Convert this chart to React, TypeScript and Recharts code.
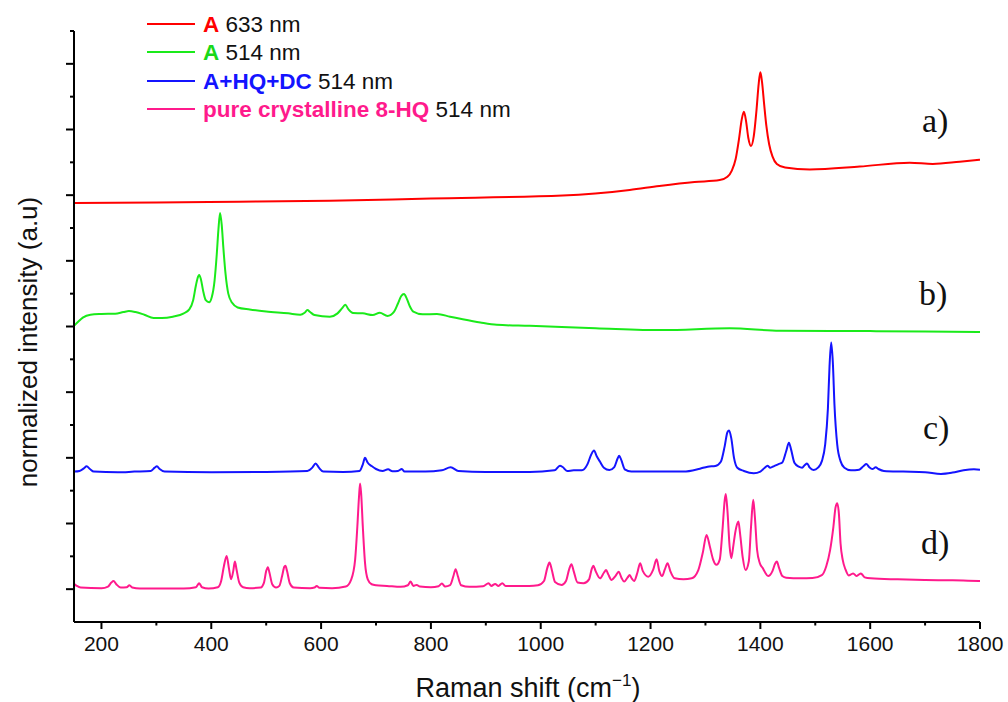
import React from "react";
import { LineChart, Line, XAxis, YAxis, Customized } from "recharts";

// ---- Data (x = Raman shift cm^-1, y = normalized intensity, stacked offsets) ----
const redA633: [number, number][] = [
  [150, 12.76], [300, 12.78], [450, 12.8], [616, 12.83], [800, 12.9], [1040, 12.99], [1162, 13.16],
  [1216, 13.28], [1280, 13.4], [1326, 13.46], [1340, 13.56], [1348, 13.75], [1355, 14.1], [1361, 14.7],
  [1366, 15.3], [1370, 15.54], [1374, 15.25], [1378, 14.75], [1383, 14.5], [1388, 14.8], [1393, 15.6],
  [1397, 16.4], [1400, 16.74], [1403, 16.45], [1407, 15.75], [1411, 15.1], [1416, 14.55], [1422, 14.18],
  [1430, 13.95], [1445, 13.84], [1490, 13.78], [1581, 13.87], [1672, 13.99], [1714, 13.95], [1763, 14.02],
  [1800, 14.08],
];

const greenA514: [number, number][] = [
  [150, 9.02], [158, 9.15], [166, 9.27], [180, 9.36], [200, 9.38], [225, 9.39], [240, 9.44], [250, 9.47],
  [262, 9.44], [278, 9.36], [295, 9.26], [310, 9.26], [330, 9.3], [350, 9.4], [360, 9.52], [367, 9.8],
  [372, 10.25], [376, 10.52], [378, 10.57], [381, 10.45], [385, 10.1], [390, 9.8], [396, 9.74], [401, 9.9],
  [406, 10.4], [410, 11.2], [413, 11.95], [416, 12.46], [419, 12.1], [422, 11.4], [426, 10.6], [431, 10.0],
  [438, 9.72], [448, 9.58], [470, 9.52], [500, 9.46], [540, 9.4], [562, 9.36], [570, 9.42], [575, 9.5],
  [580, 9.44], [588, 9.35], [616, 9.3], [630, 9.4], [638, 9.55], [644, 9.66], [650, 9.52], [658, 9.41],
  [676, 9.4], [694, 9.35], [707, 9.42], [721, 9.32], [733, 9.45], [740, 9.7], [746, 9.93], [751, 9.99],
  [756, 9.85], [762, 9.6], [768, 9.45], [785, 9.37], [811, 9.38], [835, 9.3], [858, 9.22], [890, 9.12],
  [920, 9.05], [980, 9.02], [1100, 8.95], [1222, 8.89], [1344, 8.95], [1435, 8.87], [1600, 8.86],
  [1700, 8.85], [1800, 8.83],
];

const blueAHQDC514: [number, number][] = [
  [150, 4.58], [160, 4.6], [168, 4.68], [173, 4.74], [179, 4.66], [186, 4.58], [230, 4.56], [260, 4.58],
  [290, 4.6], [297, 4.7], [301, 4.74], [306, 4.66], [315, 4.58], [400, 4.56], [500, 4.57], [575, 4.6],
  [584, 4.7], [590, 4.83], [596, 4.7], [604, 4.58], [640, 4.57], [670, 4.6], [676, 4.8], [680, 5.0],
  [685, 4.85], [692, 4.75], [700, 4.66], [712, 4.6], [722, 4.65], [730, 4.59], [740, 4.6], [747, 4.66],
  [752, 4.58], [790, 4.58], [820, 4.62], [836, 4.71], [850, 4.6], [900, 4.57], [980, 4.57], [1025, 4.62],
  [1035, 4.76], [1040, 4.72], [1048, 4.6], [1060, 4.62], [1075, 4.62], [1085, 4.8], [1092, 5.1],
  [1097, 5.22], [1102, 5.05], [1108, 4.88], [1115, 4.7], [1125, 4.63], [1134, 4.72], [1140, 4.98],
  [1143, 5.06], [1147, 4.92], [1153, 4.65], [1165, 4.58], [1200, 4.58], [1260, 4.58], [1290, 4.67],
  [1304, 4.73], [1318, 4.75], [1328, 4.88], [1335, 5.35], [1340, 5.78], [1343, 5.83], [1347, 5.6],
  [1352, 5.0], [1358, 4.7], [1370, 4.6], [1388, 4.53], [1400, 4.58], [1408, 4.7], [1413, 4.76],
  [1418, 4.7], [1425, 4.75], [1433, 4.81], [1440, 4.86], [1447, 5.2], [1452, 5.46], [1456, 5.25],
  [1462, 4.85], [1470, 4.73], [1476, 4.7], [1481, 4.78], [1485, 4.83], [1490, 4.7], [1497, 4.63],
  [1505, 4.7], [1512, 4.9], [1518, 5.4], [1523, 6.5], [1526, 7.8], [1529, 8.51], [1532, 7.9],
  [1535, 6.6], [1540, 5.4], [1546, 4.9], [1553, 4.7], [1565, 4.62], [1580, 4.64], [1588, 4.75],
  [1593, 4.81], [1598, 4.72], [1604, 4.66], [1610, 4.71], [1615, 4.66], [1625, 4.6], [1660, 4.58],
  [1700, 4.56], [1729, 4.51], [1750, 4.55], [1770, 4.62], [1789, 4.65], [1800, 4.64],
];

const pinkHQ514: [number, number][] = [
  [150, 1.16], [155, 1.1], [162, 1.05], [200, 1.03], [212, 1.08], [218, 1.2], [222, 1.25], [227, 1.15],
  [235, 1.05], [246, 1.06], [251, 1.12], [256, 1.05], [270, 1.02], [350, 1.02], [372, 1.06], [378, 1.18],
  [383, 1.06], [395, 1.02], [412, 1.06], [418, 1.25], [423, 1.7], [428, 2.01], [432, 1.65], [436, 1.3],
  [440, 1.55], [443, 1.84], [446, 1.6], [451, 1.2], [458, 1.06], [470, 1.03], [490, 1.05], [496, 1.2],
  [500, 1.55], [503, 1.67], [506, 1.5], [511, 1.15], [518, 1.05], [524, 1.1], [529, 1.4], [533, 1.68],
  [535, 1.71], [538, 1.55], [543, 1.18], [550, 1.05], [580, 1.03], [588, 1.05], [592, 1.1], [597, 1.04],
  [620, 1.03], [645, 1.08], [655, 1.3], [662, 1.9], [666, 2.9], [669, 3.8], [671, 4.22], [673, 3.9],
  [676, 2.9], [680, 1.8], [685, 1.3], [692, 1.15], [700, 1.12], [720, 1.1], [745, 1.07], [758, 1.12],
  [763, 1.23], [768, 1.1], [774, 1.13], [780, 1.08], [800, 1.06], [814, 1.09], [820, 1.17], [826, 1.08],
  [835, 1.12], [841, 1.4], [845, 1.61], [849, 1.4], [855, 1.12], [870, 1.07], [895, 1.09], [905, 1.18],
  [910, 1.1], [917, 1.16], [923, 1.1], [930, 1.18], [936, 1.1], [960, 1.1], [979, 1.1], [995, 1.12],
  [1006, 1.25], [1012, 1.65], [1016, 1.81], [1020, 1.6], [1026, 1.22], [1038, 1.13], [1046, 1.25],
  [1052, 1.62], [1056, 1.76], [1060, 1.55], [1067, 1.2], [1078, 1.18], [1088, 1.3], [1093, 1.62],
  [1096, 1.71], [1100, 1.55], [1108, 1.33], [1115, 1.5], [1119, 1.58], [1123, 1.45], [1129, 1.28],
  [1136, 1.4], [1142, 1.53], [1147, 1.35], [1152, 1.23], [1158, 1.35], [1162, 1.43], [1166, 1.32],
  [1170, 1.25], [1176, 1.5], [1181, 1.79], [1186, 1.55], [1196, 1.38], [1205, 1.6], [1211, 1.91],
  [1216, 1.55], [1221, 1.4], [1226, 1.6], [1231, 1.79], [1236, 1.55], [1244, 1.33], [1260, 1.3],
  [1275, 1.33], [1287, 1.58], [1295, 2.1], [1302, 2.65], [1308, 2.3], [1314, 1.9], [1320, 1.74],
  [1326, 1.9], [1331, 2.8], [1335, 3.7], [1337, 3.9], [1340, 3.4], [1344, 2.3], [1347, 1.94],
  [1351, 2.35], [1354, 2.7], [1358, 3.0], [1360, 3.06], [1363, 2.7], [1368, 1.95], [1373, 1.58],
  [1379, 1.85], [1383, 2.9], [1387, 3.72], [1390, 3.2], [1394, 2.2], [1399, 1.79], [1404, 1.65],
  [1409, 1.5], [1414, 1.4], [1422, 1.55], [1427, 1.78], [1430, 1.84], [1434, 1.65], [1440, 1.4],
  [1447, 1.35], [1473, 1.33], [1495, 1.34], [1512, 1.43], [1520, 1.7], [1527, 2.19], [1533, 2.9],
  [1537, 3.5], [1540, 3.62], [1543, 3.3], [1546, 2.4], [1550, 1.89], [1555, 1.6], [1561, 1.42],
  [1565, 1.45], [1569, 1.48], [1575, 1.4], [1579, 1.44], [1583, 1.48], [1590, 1.36], [1601, 1.33],
  [1650, 1.3], [1700, 1.28], [1750, 1.27], [1798, 1.25], [1800, 1.25],
];

const xTicks = [200, 300, 400, 500, 600, 700, 800, 900, 1000, 1100, 1200, 1300, 1400, 1500, 1600, 1700, 1800];
const yTicks = [1, 2, 3, 4, 5, 6, 7, 8, 9, 10, 11, 12, 13, 14, 15, 16, 17, 18];
const curveLabels = ["a)", "b)", "c)", "d)"];

const COLORS = {
  red: "#ff0000",
  green: "#1aea1a",
  blue: "#1414ff",
  pink: "#ff1a8c",
};

const legendItems = [
  { name: "A", suffix: " 633 nm", color: COLORS.red, textColor: "#ff0000" },
  { name: "A", suffix: " 514 nm", color: COLORS.green, textColor: "#19d819" },
  { name: "A+HQ+DC", suffix: " 514 nm", color: COLORS.blue, textColor: "#1414ff" },
  { name: "pure crystalline 8-HQ", suffix: " 514 nm", color: COLORS.pink, textColor: "#ff1a8c" },
];

const toPts = (arr: [number, number][]) => arr.map(([x, y]) => ({ x, y }));

const SANS = "'Liberation Sans', Arial, Helvetica, sans-serif";
const SERIF = "'Liberation Serif', 'Times New Roman', serif";

const XTick = (props: any) => {
  const { x, y, payload } = props;
  const major = payload.value % 200 === 0;
  return (
    <g>
      <line x1={x} x2={x} y1={y} y2={y + (major ? 7 : 3.5)} stroke="#000" strokeWidth={2} />
      {major && (
        <text x={x} y={y + 29} textAnchor="middle" fontSize={21} fontFamily={SANS} fill="#111">
          {payload.value}
        </text>
      )}
    </g>
  );
};

const YTick = (props: any) => {
  const { x, y, payload } = props;
  const major = payload.value % 2 === 1;
  return <line x1={x} x2={x - (major ? 8 : 4)} y1={y} y2={y} stroke="#000" strokeWidth={2} />;
};

const Overlay = () => {
  const legendY = [24, 52, 81, 109];
  const labelPos = [
    { x: 922, y: 132 },
    { x: 919, y: 305 },
    { x: 923, y: 439 },
    { x: 921, y: 554 },
  ];
  return (
    <g>
      {legendItems.map((it, i) => (
        <g key={i}>
          <line x1={147} x2={195} y1={legendY[i]} y2={legendY[i]} stroke={it.color} strokeWidth={2} />
          <text x={203} y={legendY[i] + 7.5} fontSize={22.5} fontFamily={SANS}>
            <tspan fontWeight="bold" fill={it.textColor}>{it.name}</tspan>
            <tspan fill="#111">{it.suffix}</tspan>
          </text>
        </g>
      ))}
      {curveLabels.map((t, i) => (
        <text key={t} x={labelPos[i].x} y={labelPos[i].y} fontSize={34} fontFamily={SERIF} fill="#111">
          {t}
        </text>
      ))}
      <text x={528} y={697} textAnchor="middle" fontSize={27} fontFamily={SANS} fill="#111">
        Raman shift (cm
        <tspan fontSize={17} dy={-11}>−1</tspan>
        <tspan dy={11}>)</tspan>
      </text>
      <text
        x={37}
        y={342}
        textAnchor="middle"
        fontSize={26}
        fontFamily={SANS}
        fill="#111"
        transform="rotate(-90 37 342)"
      >
        normalized intensity (a.u)
      </text>
    </g>
  );
};

export default function App() {
  return (
    <div style={{ position: "absolute", left: 0, top: 0, width: 1008, height: 702, background: "#fff" }}>
      <LineChart width={1008} height={702} margin={{ top: 31, right: 28, left: 14, bottom: 10 }}>
        <XAxis
          type="number"
          dataKey="x"
          domain={[150, 1800]}
          ticks={xTicks}
          interval={0}
          allowDataOverflow
          height={70}
          tickSize={0}
          tickMargin={0}
          tickLine={false}
          axisLine={{ stroke: "#000", strokeWidth: 2 }}
          tick={<XTick />}
        />
        <YAxis
          type="number"
          domain={[0, 18]}
          ticks={yTicks}
          interval={0}
          allowDataOverflow
          width={60}
          tickSize={0}
          tickMargin={0}
          tickLine={false}
          axisLine={{ stroke: "#000", strokeWidth: 2 }}
          tick={<YTick />}
        />
        <Line data={toPts(redA633)} dataKey="y" type="monotone" stroke={COLORS.red} strokeWidth={2} dot={false} isAnimationActive={false} />
        <Line data={toPts(greenA514)} dataKey="y" type="monotone" stroke={COLORS.green} strokeWidth={2} dot={false} isAnimationActive={false} />
        <Line data={toPts(blueAHQDC514)} dataKey="y" type="monotone" stroke={COLORS.blue} strokeWidth={2} dot={false} isAnimationActive={false} />
        <Line data={toPts(pinkHQ514)} dataKey="y" type="monotone" stroke={COLORS.pink} strokeWidth={2} dot={false} isAnimationActive={false} />
        <Customized component={<Overlay />} />
      </LineChart>
    </div>
  );
}
